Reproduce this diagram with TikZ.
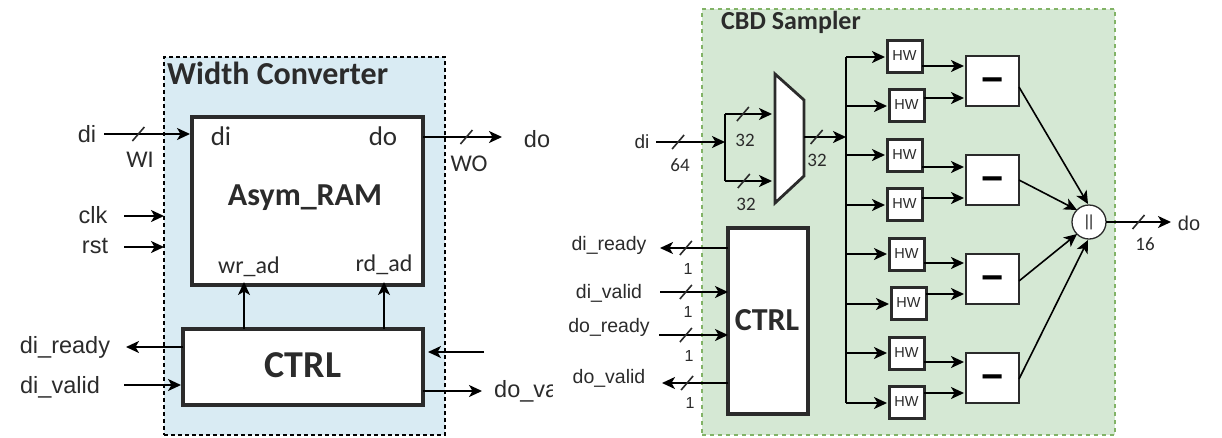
\documentclass[tikz,border=0pt]{standalone}
\usepackage{fontspec}
\setmainfont{Liberation Sans}
\newfontfamily\car{Carlito}
\usetikzlibrary{arrows.meta}
\definecolor{ink}{HTML}{2B2B2B}
\definecolor{blueback}{HTML}{D9EBF3}
\definecolor{greenback}{HTML}{D5E8D4}
\definecolor{greenline}{HTML}{82B366}
\newcommand{\fs}[1]{\fontsize{#1}{#1}\selectfont}
\tikzset{
  x=1pt,y=-1pt,
  lab/.style={inner sep=0,text=ink,font=\fs{23.5}},
  slab/.style={inner sep=0,text=ink,font=\fs{19.5}},
  clab/.style={inner sep=0,text=ink,font=\car\fs{24}},
  nlab/.style={inner sep=0,text=ink,font=\car\fs{19}},
  ttl/.style={inner sep=0,text=ink,font=\car\bfseries\fs{#1}},
  sig/.style={draw=black,line width=1.9,-{Stealth[length=13,width=12,inset=3.5]}},
  wire/.style={draw=black,line width=1.9},
  box/.style={draw=ink,fill=white,line width=#1,inner sep=0,outer sep=0,anchor=north west},
  hw/.style={box=3,minimum width=35,minimum height=32,font=\fs{14.5},text=ink},
  sub/.style={box=2.6,minimum width=53,minimum height=50,font=\bfseries\fs{38},text=black},
  slashmark/.pic={\draw[arrows=-,line width=1.6,draw=ink] (-6,7) -- (6,-7);}
}
\newcommand{\minusmark}{\raisebox{-11pt}[0pt][0pt]{−}}
\begin{document}
\begin{tikzpicture}
\useasboundingbox (0,0) rectangle (1222,437);
% ---------- Width converter ----------
\node[draw=black,dash pattern=on 4pt off 3pt,line width=1.5,fill=blueback,inner sep=0,outer sep=0,minimum width=281,minimum height=378,anchor=north west] (wc) at (164,57) {};
\node[ttl=32,anchor=west] (wct) at (167,73) {Width Converter};
\node[box=3.6,minimum width=231,minimum height=168] (ram) at (192,117) {};
\node[box=3.2,minimum width=240,minimum height=76] (ctl) at (183,329) {};
\node[ttl=32] (ramt) at (305,198) {Asym\_RAM};
\node[ttl=38] (ctlt) at (303,365) {CTRL};
\node[clab,font=\car\fs{27}] (pdi) at (221,136) {di};
\node[clab,font=\car\fs{27}] (pdo) at (383,136) {do};
\node[clab] (pwr) at (249,267) {wr\_ad};
\node[clab] (prd) at (384,265) {rd\_ad};
\node[lab] (ldi) at (87,134) {di};
\node[lab] (lclk) at (93,215) {clk};
\node[lab] (lrst) at (95,246) {rst};
\node[clab] (lwi) at (140,160) {WI};
\node[clab] (lwo) at (469,164) {WO};
\node[lab] (ldo) at (537,139) {do};
\node[lab] (lrdy) at (65,347) {di\_ready};
\node[lab] (lval) at (60,387) {di\_valid};
\begin{scope}
\clip (480,370) rectangle (552,415);
\node[lab,anchor=west] (lov) at (494,391) {do\_valid};
\end{scope}
\coordinate (a1) at (104,134);
\coordinate (a2) at (124,216);
\coordinate (a3) at (124,247);
\coordinate (a4) at (502,137);
\coordinate (a5) at (126,347);
\coordinate (a6) at (124,385);
\coordinate (a7) at (484,352);
\coordinate (a8) at (482,391);
\coordinate (wr) at (244,329);
\coordinate (rd) at (384,329);
\draw[sig] (a1) -- pic[pos=.4]{slashmark} ([xshift=-2]a1 -| ram.west);
\draw[sig] (a2) -- (a2 -| wc.west);
\draw[sig] (a3) -- (a3 -| wc.west);
\draw[sig] (a4 -| ram.east) -- pic[pos=.55]{slashmark} (a4);
\draw[sig] (a5 -| ctl.west) -- (a5);
\draw[sig] (a6) -- ([xshift=-2]a6 -| ctl.west);
\draw[sig] (a7) -- ([xshift=5]a7 -| ctl.east);
\draw[sig] (a8 -| ctl.east) -- (a8);
\draw[sig] (wr) -- ([yshift=3]wr |- ram.south);
\draw[sig] (rd) -- ([yshift=3]rd |- ram.south);
% ---------- CBD sampler ----------
\node[draw=greenline,dash pattern=on 4pt off 4pt,line width=1.2,fill=greenback,inner sep=0,outer sep=0,minimum width=413,minimum height=426,anchor=north west] (cbd) at (702,9) {};
\node[ttl=26] (cbdt) at (791,22) {CBD Sampler};
\coordinate (m1) at (775,74);
\coordinate (m2) at (804,100);
\coordinate (m3) at (804,176);
\coordinate (m4) at (775,203);
\draw[draw=ink,fill=white,line width=2.8] (m1) -- (m2) -- (m3) -- (m4) -- cycle;
\node[box=3.2,minimum width=80,minimum height=186] (ct) at (728,228) {};
\node[ttl=32] (ctt) at (767,320) {CTRL};
\node[hw] (h1) at (887,40) {HW};
\node[hw] (h2) at (889,89) {HW};
\node[hw] (h3) at (887,139) {HW};
\node[hw] (h4) at (887,188) {HW};
\node[hw] (h5) at (889,238) {HW};
\node[hw] (h6) at (891,287) {HW};
\node[hw] (h7) at (889,337) {HW};
\node[hw] (h8) at (889,386) {HW};
\node[sub] (s1) at (966,56) {\minusmark};
\node[sub] (s2) at (966,155) {\minusmark};
\node[sub] (s3) at (966,254) {\minusmark};
\node[sub] (s4) at (966,353) {\minusmark};
\node[circle,draw=ink,fill=white,line width=1.3,minimum size=34,inner sep=0,outer sep=0,font=\fs{16},text=ink] (cc) at (1089,222) {||};
\node[lab,font=\fs{19}] (rdi) at (642,142) {di};
\node[lab,font=\fs{20}] (rdo) at (1189,223) {do};
\node[nlab] (n64) at (680,165) {64};
\node[nlab] (n32a) at (745,140) {32};
\node[nlab] (n32b) at (746,204) {32};
\node[nlab] (n32c) at (817,160) {32};
\node[nlab] (n16) at (1145,244) {16};
\node[slab] (r1) at (609,245) {di\_ready};
\node[slab] (r2) at (609,293) {di\_valid};
\node[slab] (r3) at (609,327) {do\_ready};
\node[slab] (r4) at (609,378) {do\_valid};
\node[nlab,font=\fs{16}] (o1) at (688,269) {1};
\node[nlab,font=\fs{16}] (o2) at (688,312) {1};
\node[nlab,font=\fs{16}] (o3) at (689,356) {1};
\node[nlab,font=\fs{16}] (o4) at (690,403) {1};
\coordinate (di0) at (656,142);
\coordinate (br) at (725,142);
\coordinate (brt) at (725,114);
\coordinate (brb) at (725,181);
\coordinate (mo) at (804,137);
\coordinate (moe) at (846,137);
\coordinate (bt) at (846,57);
\coordinate (bb) at (846,403);
\draw[sig] (di0) -- pic[pos=.32]{slashmark} (br);
\draw[wire] (brt) -- (brb);
\draw[sig] (brt) -- pic[pos=.38]{slashmark} (772,114);
\draw[sig] (brb) -- pic[pos=.4]{slashmark} (772,181);
\draw[sig] (mo) -- pic[pos=.3]{slashmark} (moe);
\draw[wire] (bt) -- (bb);
\foreach \n/\yy in {h1/57,h2/106,h3/155,h4/205,h5/254,h6/304,h7/353,h8/403}{
  \coordinate (bp) at (846,\yy);
  \draw[sig] (bp) -- ([xshift=-2]\n.west |- bp);
}
\foreach \n/\m/\yy in {h1/s1/66,h2/s1/98,h3/s2/167,h4/s2/198,h5/s3/263,h6/s3/294,h7/s4/362,h8/s4/393}{
  \coordinate (hp) at (0,\yy);
  \draw[sig] (\n.east |- hp) -- ([xshift=-2]\m.west |- hp);
}
\draw[sig,line width=1.6] ([yshift=-6]s1.east) -- ([shift={(-1,-1)}]cc.north);
\draw[sig,line width=1.6] ([yshift=0]s2.east) -- (cc.north west);
\draw[sig,line width=1.6] ([yshift=-2]s3.east) -- (cc.south west);
\draw[sig,line width=1.6] ([yshift=-1]s4.east) -- ([shift={(-1,1)}]cc.south);
\coordinate (oo) at (1171,222);
\draw[sig] (cc.east) -- pic[pos=.5]{slashmark} (oo);
\coordinate (c1) at (660,248);
\coordinate (c2) at (660,292);
\coordinate (c3) at (659,335);
\coordinate (c4) at (662,383);
\draw[sig] (c1 -| ct.west) -- pic[pos=.62]{slashmark} (c1);
\draw[sig] (c2) -- pic[pos=.38]{slashmark} (c2 -| ct.west);
\draw[sig] (c3) -- pic[pos=.39]{slashmark} (c3 -| ct.west);
\draw[sig] (c4 -| ct.west) -- pic[pos=.62]{slashmark} (c4);
\end{tikzpicture}
\end{document}
